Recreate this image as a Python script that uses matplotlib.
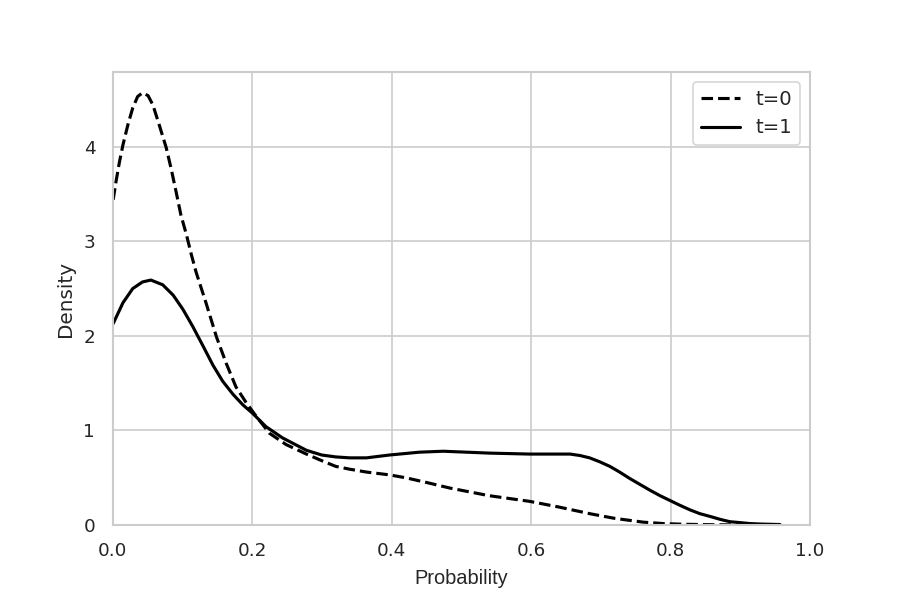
import matplotlib
matplotlib.use("Agg")
import matplotlib.pyplot as plt
import seaborn as sns

# -----------------------------
# Curve values (probability, density)
# -----------------------------

x_t0 = [0.001, 0.005, 0.010, 0.015, 0.022, 0.029, 0.036, 0.043, 0.051, 0.058,
        0.067, 0.077, 0.084, 0.091, 0.098, 0.106, 0.113, 0.120, 0.134, 0.149,
        0.163, 0.177, 0.192, 0.206, 0.225, 0.249, 0.278, 0.300, 0.320, 0.340,
        0.364, 0.397, 0.420, 0.450, 0.484, 0.540, 0.598, 0.640, 0.684, 0.720,
        0.761, 0.790, 0.818, 0.850, 0.875, 0.900]
d_t0 = [3.44, 3.63, 3.84, 4.02, 4.23, 4.41, 4.53, 4.57, 4.54, 4.44,
        4.23, 3.99, 3.77, 3.53, 3.28, 3.07, 2.86, 2.67, 2.35, 1.99,
        1.71, 1.46, 1.29, 1.15, 0.97, 0.85, 0.75, 0.68, 0.62, 0.59,
        0.56, 0.53, 0.50, 0.45, 0.39, 0.31, 0.25, 0.19, 0.12, 0.07,
        0.03, 0.015, 0.008, 0.004, 0.002, 0.001]

x_t1 = [0.001, 0.015, 0.029, 0.043, 0.055, 0.072, 0.087, 0.101, 0.115, 0.130,
        0.144, 0.158, 0.173, 0.187, 0.201, 0.220, 0.244, 0.278, 0.300, 0.320,
        0.340, 0.364, 0.397, 0.440, 0.474, 0.541, 0.598, 0.656, 0.670, 0.684,
        0.698, 0.713, 0.727, 0.742, 0.756, 0.770, 0.785, 0.799, 0.813, 0.828,
        0.842, 0.857, 0.871, 0.885, 0.900, 0.914, 0.930, 0.957]
d_t1 = [2.13, 2.35, 2.50, 2.57, 2.59, 2.54, 2.43, 2.28, 2.10, 1.89,
        1.69, 1.52, 1.38, 1.27, 1.18, 1.04, 0.92, 0.79, 0.74, 0.72,
        0.71, 0.71, 0.74, 0.77, 0.78, 0.76, 0.75, 0.75, 0.735, 0.71,
        0.67, 0.62, 0.56, 0.49, 0.43, 0.37, 0.31, 0.26, 0.21, 0.16,
        0.12, 0.09, 0.06, 0.035, 0.025, 0.015, 0.01, 0.005]


# -----------------------------
# Plot
# -----------------------------

sns.set_theme(style="whitegrid", context="paper")

fig, ax = plt.subplots(figsize=(6, 4), dpi=150)
fig.subplots_adjust(left=0.125, right=0.9, top=0.88, bottom=0.125)

ax.plot(x_t0, d_t0, color="black", linestyle="--", linewidth=1.5, label="t=0")
ax.plot(x_t1, d_t1, color="black", linestyle="-", linewidth=1.5, label="t=1")

ax.set_xlim(0, 1.0)
ax.set_ylim(0, 4.79)
ax.set_xticks([0.0, 0.2, 0.4, 0.6, 0.8, 1.0])
ax.set_yticks([0, 1, 2, 3, 4])

ax.set_xlabel("Probability", family="Liberation Sans", fontsize=9.6)
ax.set_ylabel("Density", fontsize=9.6)
ax.legend(loc="upper right", fontsize=9.4)

fig.savefig("out.png", dpi=150)
